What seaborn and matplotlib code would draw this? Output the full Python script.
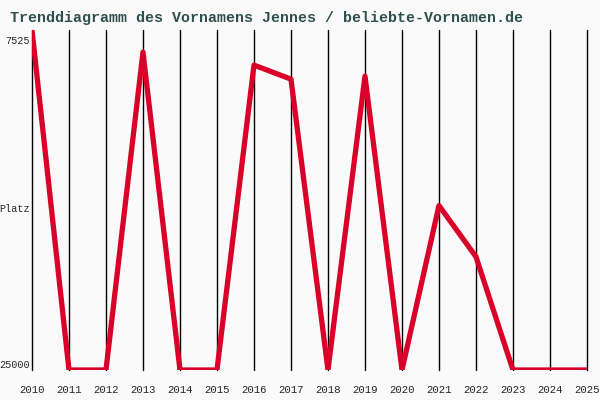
import matplotlib
matplotlib.use("Agg")
import matplotlib.pyplot as plt
import matplotlib.transforms as mtransforms
import seaborn as sns
import pandas as pd

# rank of the name per year (25000 = not ranked)
years = list(range(2010, 2026))
platz = [7525, 25000, 25000, 8660, 25000, 25000, 9330, 10050,
         25000, 9900, 25000, 16550, 19180, 25000, 25000, 25000]

df = pd.DataFrame({"Jahr": years, "Platz": platz})

sns.set_style("white")
plt.rcParams['font.family'] = ['Liberation Mono', 'DejaVu Sans Mono']

bg = "#fafafa"
fig = plt.figure(figsize=(6, 4), dpi=100, facecolor=bg)
ax = fig.add_axes([0.0533, 0.075, 0.925, 0.85])
ax.set_facecolor(bg)

for y in years:
    ax.axvline(y, color="black", lw=1, zorder=1, clip_on=False)

sns.lineplot(x="Jahr", y="Platz", data=df, ax=ax, color="#d90029",
             lw=3.8, zorder=3)

ax.set_xlim(2010, 2025)
ax.set_ylim(25000, 7525)
ax.set_xticks(years)
ax.set_xticklabels([str(y) for y in years], fontsize=7.7)
ax.tick_params(axis="x", length=0, pad=10.5)
ax.set_yticks([7525, 25000])
ylabs = ax.set_yticklabels(["7525", "25000"], fontsize=7.3)
ax.tick_params(axis="y", length=0, pad=1.5)
ylabs[0].set_va("top")
ylabs[0].set_transform(ylabs[0].get_transform() +
                       mtransforms.ScaledTranslation(0, -0.06, fig.dpi_scale_trans))
ylabs[1].set_va("bottom")
ax.set_xlabel("")
ax.set_ylabel("Platz", rotation=0, fontsize=7.3, ha="right", va="center")
ax.yaxis.set_label_coords(-0.003, 0.475)
for s in ax.spines.values():
    s.set_visible(False)

fig.text(0.017, 0.955, "Trenddiagramm des Vornamens Jennes / beliebte-Vornamen.de",
         fontsize=10.8, color="#2f4f4f", fontweight="bold", va="center")

fig.savefig("out.png", dpi=100, facecolor=bg)
